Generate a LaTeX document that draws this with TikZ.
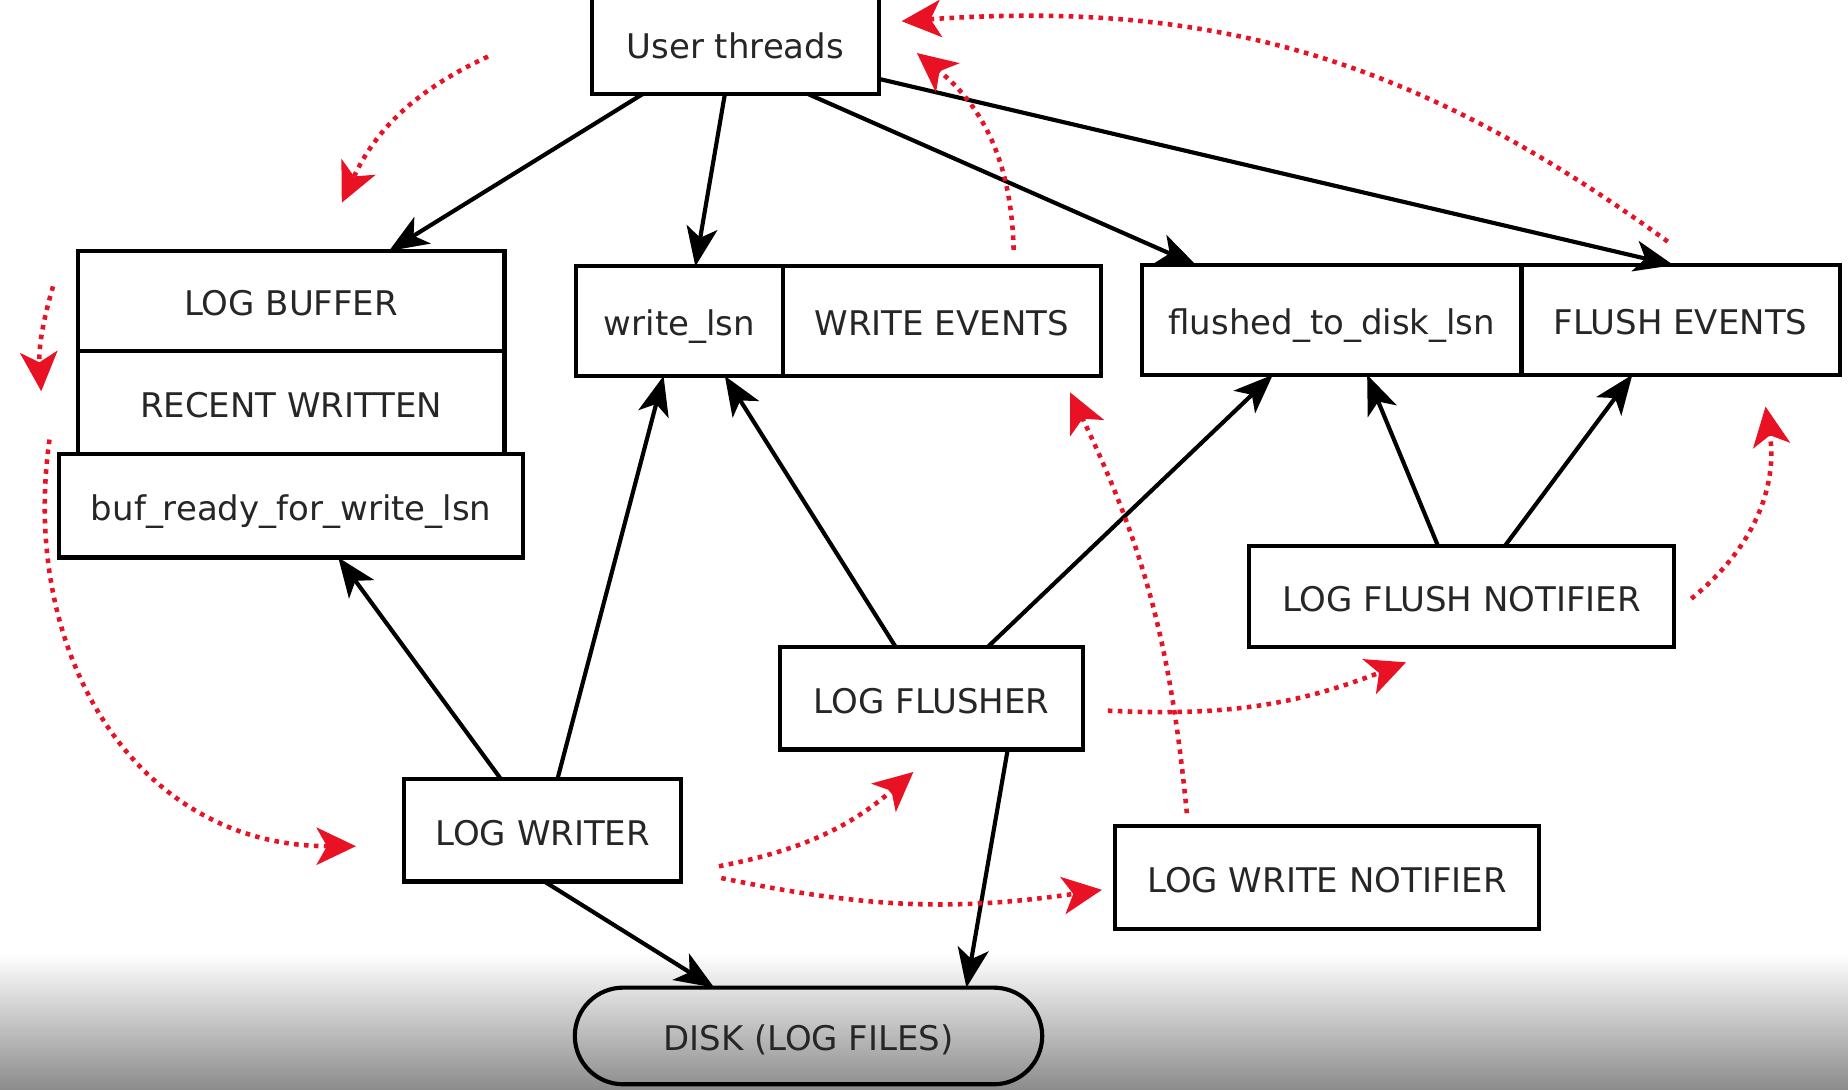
\documentclass[tikz,border=0pt]{standalone}
\usepackage{fontspec}
\setmainfont{DejaVu Sans}
\usepackage{tikz}
\usetikzlibrary{shapes.misc,arrows.meta}
\usetikzlibrary{positioning}
\definecolor{flowred}{RGB}{232,18,36}
\tikzset{auto,>={Stealth[length=9.5pt,width=7.5pt,inset=2.5pt]}, node distance=1cm, font=\fontsize{8.2}{9.8}\selectfont}
\tikzstyle{block} = [draw, rectangle, line width=1pt, minimum height=0.87cm, inner sep=0pt, outer sep=0pt, text height=1.6ex, text depth=0.3ex, align=center, text=black!85]
\tikzstyle{disk} = [draw, rounded rectangle, line width=1pt, minimum height=0.82cm, minimum width=4.20cm, outer sep=0pt, text height=1.6ex, text depth=0.3ex, text=black!85]
\tikzstyle{link} = [->, line width=1pt]
\tikzstyle{flow} = [-{Stealth[length=9.5pt,width=9pt,inset=2.5pt]}, flowred, line width=1.1pt, dash pattern=on 1.1pt off 1.3pt]

\begin{document}
\begin{tikzpicture}
    \useasboundingbox (0,0) rectangle (15.68,9.24);
    \shade [top color=white, bottom color=black!45] (0,0) rectangle (15.68,1.15);

    \node [block, minimum width=2.44cm, minimum height=0.86cm] (user) at (6.24,8.87) {User threads};
    \node [block, minimum width=3.62cm, minimum height=0.85cm] (logbuf) at (2.47,6.685) {LOG BUFFER};
    \node [block, minimum width=3.62cm, below=0cm of logbuf] (recent) {RECENT WRITTEN};
    \node [block, minimum width=3.94cm, minimum height=0.88cm, below=0cm of recent] (bufready) {buf\_ready\_for\_write\_lsn};
    \node [block, minimum width=1.75cm, minimum height=0.93cm] (writelsn) at (5.765,6.515) {write\_lsn};
    \node [block, minimum width=2.70cm, minimum height=0.93cm, right=0cm of writelsn] (writeev) {WRITE EVENTS};
    \node [block, minimum width=3.22cm, minimum height=0.93cm] (flushed) at (11.30,6.525) {flushed\_to\_disk\_lsn};
    \node [block, minimum width=2.70cm, minimum height=0.93cm, right=0cm of flushed] (flushev) {FLUSH EVENTS};
    \node [block, minimum width=3.60cm, minimum height=0.86cm] (flushnot) at (12.40,4.18) {LOG FLUSH NOTIFIER};
    \node [block, minimum width=2.57cm] (flusher) at (7.905,3.315) {LOG FLUSHER};
    \node [block, minimum width=2.35cm] (writer) at (4.605,2.195) {LOG WRITER};
    \node [block, minimum width=3.60cm] (writenot) at (11.26,1.795) {LOG WRITE NOTIFIER};
    \node [disk] (disk) at (6.86,0.45) {DISK (LOG FILES)};

    \draw [link] ([xshift=-0.79cm]user.south) -- ([xshift=0.83cm]logbuf.north);
    \draw [link] ([xshift=-0.09cm]user.south) -- ([xshift=0.135cm]writelsn.north);
    \draw [link] ([xshift=0.62cm]user.south) -- ([xshift=-1.15cm]flushed.north);
    \draw [link] ([yshift=-0.30cm]user.east) -- ([xshift=-0.06cm]flushev.north);
    \draw [link] ([xshift=-0.355cm]writer.north) -- ([xshift=0.40cm]bufready.south);
    \draw [link] ([xshift=0.125cm]writer.north) -- ([xshift=-0.135cm]writelsn.south);
    \draw [link] ([xshift=-0.305cm]flusher.north) -- ([xshift=0.385cm]writelsn.south);
    \draw [link] ([xshift=0.475cm]flusher.north) -- ([xshift=-0.50cm]flushed.south);
    \draw [link] ([xshift=-0.20cm]flushnot.north) -- ([xshift=0.30cm]flushed.south);
    \draw [link] ([xshift=0.37cm]flushnot.north) -- ([xshift=-0.41cm]flushev.south);
    \draw [link] ([xshift=0.015cm]writer.south) -- ([xshift=-0.80cm]disk.north);
    \draw [link] ([xshift=0.645cm]flusher.south) -- ([xshift=1.34cm]disk.north);

    % red flow hints
    \coordinate (user_in) at (4.14,8.76);
    \coordinate (buf_in) at (2.90,7.52);
    \coordinate (side_a) at (0.45,6.81);
    \coordinate (side_b) at (0.35,5.92);
    \coordinate (side_c) at (0.42,5.51);
    \coordinate (writer_in) at (3.02,2.06);
    \coordinate (writer_out) at (6.10,1.89);
    \coordinate (flusher_in) at (7.75,2.69);
    \coordinate (writer_out2) at (6.12,1.79);
    \coordinate (writenot_in) at (9.35,1.69);
    \coordinate (flusher_out) at (9.40,3.21);
    \coordinate (flushnot_in) at (11.93,3.62);
    \coordinate (writenot_out) at (10.07,2.34);
    \coordinate (writeev_in) at (9.08,5.91);
    \coordinate (flushnot_out) at (14.35,4.16);
    \coordinate (flushev_in) at (14.98,5.79);
    \coordinate (writeev_out) at (8.60,7.12);
    \coordinate (user_back) at (7.78,8.79);
    \coordinate (flushev_out) at (14.15,7.19);
    \coordinate (user_back2) at (7.65,9.06);

    \draw [flow] (user_in) to [bend right=20] (buf_in);
    \draw [flow] (side_a) to [bend right=10] (side_b);
    \draw [flow] (side_c) to [out=-98, in=180, looseness=1.1] (writer_in);
    \draw [flow] (writer_out) to [bend right=15] (flusher_in);
    \draw [flow] (writer_out2) to [bend right=10] (writenot_in);
    \draw [flow] (flusher_out) to [bend right=12] (flushnot_in);
    \draw [flow] (writenot_out) to [bend right=10] (writeev_in);
    \draw [flow] (flushnot_out) to [bend right=30] (flushev_in);
    \draw [flow] (writeev_out) to [bend right=25] (user_back);
    \draw [flow] (flushev_out) to [bend right=20] (user_back2);
\end{tikzpicture}
\end{document}
